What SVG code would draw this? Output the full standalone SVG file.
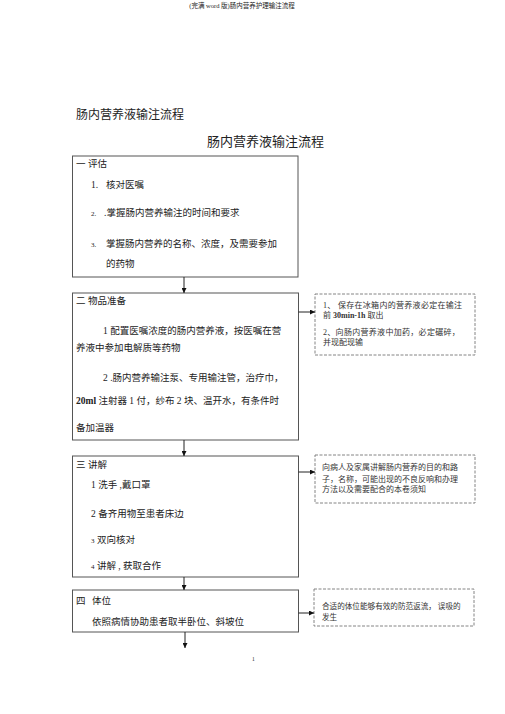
<svg xmlns="http://www.w3.org/2000/svg" width="505" height="714" viewBox="0 0 505 714">
<style>
text{font-family:"Liberation Serif","Noto Sans CJK SC",serif;fill:#222}
.t{font-size:9.5px}
.s{font-size:7.6px;fill:#333}
.s8{font-size:8px;fill:#333}
.box{fill:#fff;stroke:#555;stroke-width:1}
.dbox{fill:#fff;stroke:#777;stroke-width:0.9;stroke-dasharray:3,1.5}
.ln{stroke:#222;stroke-width:1;fill:none}
</style>
<defs>
<marker id="ah" viewBox="0 0 10 10" refX="10" refY="5" markerWidth="5" markerHeight="5" orient="auto">
<path d="M0,0L10,5L0,10z" fill="#111"/>
</marker>
</defs>
<rect width="505" height="714" fill="#fff"/>
<text x="242" y="7.5" font-size="6.5" text-anchor="middle" fill="#444">(完满 word 版)肠内营养护理输注流程</text>
<text x="76" y="119" font-size="12">肠内营养液输注流程</text>
<text x="265.5" y="146" font-size="13" text-anchor="middle">肠内营养液输注流程</text>

<g id="node1">
<rect class="box" x="72.5" y="156" width="225.5" height="121"/>
<text class="t" x="76" y="166.5">一 评估</text>
<text class="t" y="187.5"><tspan x="91">1.</tspan><tspan x="106">核对医嘱</tspan></text>
<text class="t" y="215.5"><tspan x="91" font-size="7">2.</tspan><tspan x="104">.掌握肠内营养输注的时间和要求</tspan></text>
<text class="t" y="246.5"><tspan x="91" font-size="7">3.</tspan><tspan x="106">掌握肠内营养的名称、浓度，及需要参加</tspan></text>
<text class="t" x="106" y="266.5">的药物</text>
</g>

<g id="node2">
<rect class="box" x="72.5" y="293" width="226" height="147"/>
<text class="t" x="76" y="303.5">二 物品准备</text>
<text class="t" x="103" y="333.5">1 配置医嘱浓度的肠内营养液，按医嘱在营</text>
<text class="t" x="76" y="350.5">养液中参加电解质等药物</text>
<text class="t" x="103" y="380.5">2 .肠内营养输注泵、专用输注管，治疗巾，</text>
<text class="t" x="76" y="403.5"><tspan font-weight="bold">20ml</tspan> 注射器 1 付，纱布 2 块、温开水，有条件时</text>
<text class="t" x="76" y="430.5">备加温器</text>
</g>

<g id="note1">
<rect class="dbox" x="315" y="294" width="160" height="61"/>
<text class="s8" x="323" y="307.5" letter-spacing="0.3">1、 保存在冰箱内的营养液必定在输注</text>
<text class="s8" x="323" y="318"><tspan>前 </tspan><tspan font-weight="bold">30min-1h</tspan><tspan> 取出</tspan></text>
<text class="s8" x="323" y="335" letter-spacing="0.3">2、向肠内营养液中加药，必定碾碎，</text>
<text class="s8" x="323" y="345">并现配现输</text>
</g>

<g id="node3">
<rect class="box" x="72.5" y="456" width="226" height="121"/>
<text class="t" x="76" y="467.5">三 讲解</text>
<text class="t" x="91" y="487.5">1 洗手 ,戴口罩</text>
<text class="t" x="91" y="516.5">2 备齐用物至患者床边</text>
<text class="t" x="91" y="542.5"><tspan font-size="7">3</tspan> 双向核对</text>
<text class="t" x="91" y="568.5"><tspan font-size="7">4</tspan> 讲解 , 获取合作</text>
</g>

<g id="note2">
<rect class="dbox" x="315" y="455" width="160" height="48"/>
<text class="s8" x="322" y="470">向病人及家属讲解肠内营养的目的和路</text>
<text class="s8" x="322" y="481.5">子，名称，可能出现的不良反响和办理</text>
<text class="s8" x="322" y="492">方法以及需要配合的本卷须知</text>
</g>

<g id="node4">
<rect class="box" x="72.5" y="590" width="226" height="42"/>
<text class="t" y="603.5"><tspan x="76">四</tspan><tspan x="92">体位</tspan></text>
<text class="t" x="92" y="624.5">依照病情协助患者取半卧位、斜坡位</text>
</g>

<g id="note3">
<rect class="dbox" x="314" y="589" width="160" height="37"/>
<text class="s" x="322" y="608.5">合适的体位能够有效的防范返流， 误吸的</text>
<text class="s" x="322" y="619.5">发生</text>
</g>

<g id="connectors">
<line class="ln" x1="184" y1="277" x2="184" y2="293" marker-end="url(#ah)"/>
<line class="ln" x1="184" y1="440" x2="184" y2="456" marker-end="url(#ah)"/>
<line class="ln" x1="184" y1="577" x2="184" y2="590" marker-end="url(#ah)"/>
<line class="ln" x1="185" y1="632" x2="185" y2="648" marker-end="url(#ah)"/>
<line class="ln" x1="298.5" y1="312" x2="315" y2="312" marker-end="url(#ah)"/>
<line class="ln" x1="298.5" y1="472" x2="315" y2="472" marker-end="url(#ah)"/>
<line class="ln" x1="298.5" y1="613" x2="314" y2="613" marker-end="url(#ah)"/>
</g>
<text x="252" y="661" font-size="5.5" fill="#444">1</text>
</svg>
